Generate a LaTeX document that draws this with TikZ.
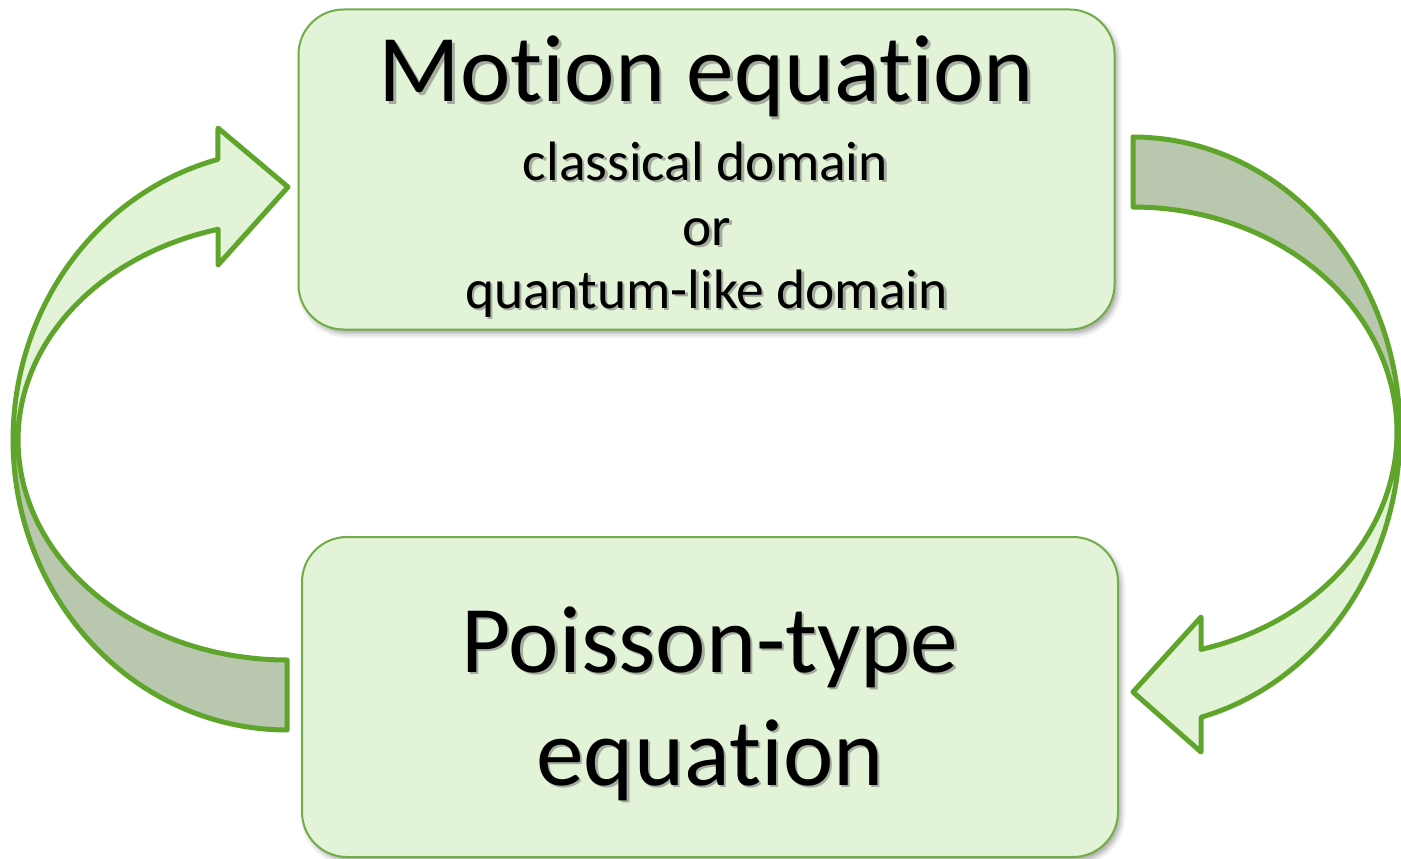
\documentclass[tikz,border=0pt]{standalone}
\usepackage{fontspec}
\setmainfont{Carlito}[Ligatures={NoCommon}]
\usetikzlibrary{shadows.blur,calc}
\definecolor{boxfill}{HTML}{E2F3D8}
\definecolor{boxline}{HTML}{70AD47}
\definecolor{arrline}{HTML}{5FA52C}
\definecolor{arrdark}{HTML}{B8C7AD}
\definecolor{txtshadow}{gray}{0.4}
\newcommand\eqlabel[4]{%
  \node[lbl, text=txtshadow, opacity=0.5] (#1s) at ($(#2)+(2.5,2.5)$) {\fontsize{#3}{#3}\selectfont #4};
  \node[lbl] (#1) at (#2) {\fontsize{#3}{#3}\selectfont #4};}
\begin{document}
\begin{tikzpicture}[x=1pt,y=-1pt,
  eqbox/.style={draw=boxline, line width=2pt, fill=boxfill, rounded corners=45pt,
    minimum width=816pt, minimum height=320pt, inner sep=0pt,
    blur shadow={shadow xshift=3pt, shadow yshift=-4pt, shadow blur radius=5pt, shadow opacity=35}},
  lbl/.style={anchor=base, inner sep=0pt, text=black},
  arrfront/.style={draw=arrline, line width=5pt, line join=round, fill=boxfill},
  arrback/.style={draw=arrline, line width=5pt, line join=round, fill=arrdark}]
\useasboundingbox (0,0) rectangle (1401,859);
% boxes
\node[eqbox] (motion) at (706.5,169.5) {};
\node[eqbox] (poisson) at (710,697) {};
% texts
\coordinate (p1) at (706.5,102);
\coordinate (p2) at (705.5,180);
\coordinate (p3) at (707,245);
\coordinate (p4) at (706.5,308);
\coordinate (p5) at (710,672);
\coordinate (p6) at (710,785);
\eqlabel{t1}{p1}{95.5}{Motion equation}
\eqlabel{t2}{p2}{55.5}{classical domain}
\eqlabel{t3}{p3}{55.5}{or}
\eqlabel{t4}{p4}{55.5}{quantum-like domain}
\eqlabel{t5}{p5}{95.5}{Poisson-type}
\eqlabel{t6}{p6}{95.5}{equation}
% left curved arrow (Poisson -> Motion)
\draw[arrback] plot[domain=180:90, samples=50, variable=\t] ({287+274*cos(\t)},{440+290*sin(\t)})
  -- (287,660)
  -- plot[domain=90:180, samples=50, variable=\t] ({287+269*cos(\t)},{440+220*sin(\t)}) -- cycle;
\draw[arrfront] plot[domain=180:255.4, samples=50, variable=\t] ({287+274*cos(\t)},{440+290*sin(\t)})
  -- (218,128) -- (288,187) -- (218,265) -- (218,229)
  -- plot[domain=255.1:180, samples=50, variable=\t] ({287+269*cos(\t)},{440+218*sin(\t)}) -- cycle;
% right curved arrow (Motion -> Poisson)
\draw[arrback] plot[domain=270:360, samples=50, variable=\t] ({1133+267*cos(\t)},{432+295*sin(\t)})
  -- plot[domain=360:270, samples=50, variable=\t] ({1133+264*cos(\t)},{432+225*sin(\t)}) -- cycle;
\draw[arrfront] plot[domain=0:75.2, samples=50, variable=\t] ({1133+267*cos(\t)},{432+295*sin(\t)})
  -- (1201,752) -- (1133,692) -- (1201,617) -- (1201,649.4)
  -- plot[domain=75.07:0, samples=50, variable=\t] ({1133+264*cos(\t)},{432+225*sin(\t)}) -- cycle;
\end{tikzpicture}
\end{document}
